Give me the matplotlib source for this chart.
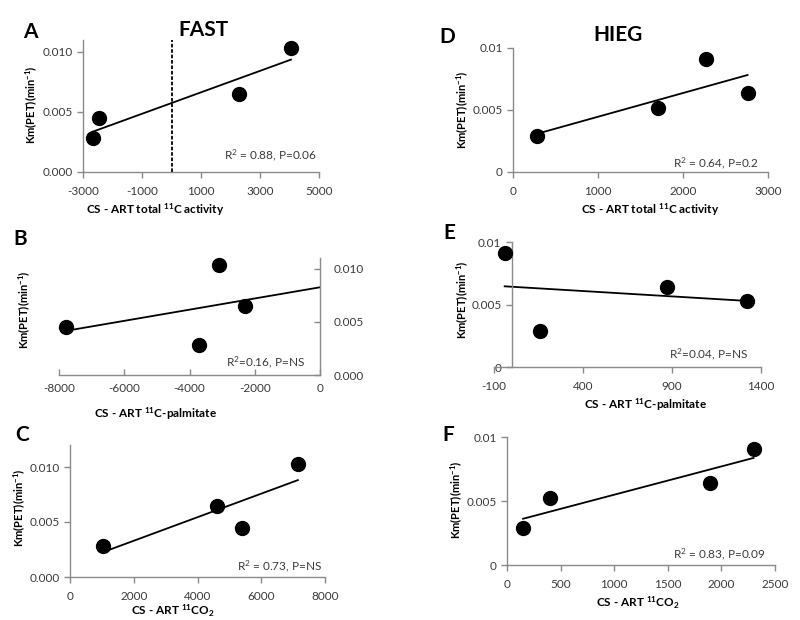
import numpy as np
import matplotlib
matplotlib.use("Agg")
import matplotlib.pyplot as plt
from matplotlib.ticker import FixedLocator, FuncFormatter

plt.rcParams["font.family"] = ["Lato", "DejaVu Sans"]
plt.rcParams["mathtext.fontset"] = "custom"
plt.rcParams["mathtext.rm"] = "Lato"
plt.rcParams["mathtext.bf"] = "Lato:bold"
plt.rcParams["mathtext.it"] = "Lato:italic"

# ---- data ----
# FAST (left column)
fast_total_x = [-2650, -2450, 2300, 4050]
fast_total_y = [0.0028, 0.0045, 0.0065, 0.0103]
fast_palm_x = [-7800, -3700, -3100, -2300]
fast_palm_y = [0.0045, 0.0028, 0.0103, 0.0065]
fast_co2_x = [1050, 4600, 5400, 7150]
fast_co2_y = [0.0028, 0.0065, 0.0045, 0.0103]
# HIEG (right column)
hieg_total_x = [280, 1710, 2270, 2760]
hieg_total_y = [0.0029, 0.0052, 0.0091, 0.0064]
hieg_palm_x = [-40, 160, 870, 1320]
hieg_palm_y = [0.0091, 0.0029, 0.0064, 0.0053]
hieg_co2_x = [150, 400, 1890, 2300]
hieg_co2_y = [0.0029, 0.0052, 0.0064, 0.0091]

stats = {
    "A": r"R$^2$ = 0.88, P=0.06",
    "B": r"R$^2$=0.16, P=NS",
    "C": r"R$^2$ = 0.73, P=NS",
    "D": r"R$^2$ = 0.64, P=0.2",
    "E": r"R$^2$=0.04, P=NS",
    "F": r"R$^2$ = 0.83, P=0.09",
}
xlab_total = r"CS - ART total $^{\mathbf{11}}$C activity"
xlab_palm = r"CS - ART $^{\mathbf{11}}$C-palmitate"
xlab_co2 = r"CS - ART $^{\mathbf{11}}$CO$_{\mathbf{2}}$"
ylab = r"Km(PET)(min$^{\mathbf{-1}}$)"

W, H = 800, 620
SPINE = "#8a8a8a"
TXT = "#3a3a3a"


def px(x0, y0, x1, y1):
    """pixel box (left, top, right, bottom) -> figure rect"""
    return [x0 / W, 1 - y1 / H, (x1 - x0) / W, (y1 - y0) / H]


fig = plt.figure(figsize=(8, 6.2), dpi=100)

# name, data, rect, xlim, xticks, ylim, 3-decimal labels, x-label, trend end
panels = [
    ("A", fast_total_x, fast_total_y, px(83, 40, 319, 172), (-3000, 5000),
     [-3000, -1000, 1000, 3000, 5000], 0.011, True, xlab_total, None),
    ("B", fast_palm_x, fast_palm_y, px(59, 258, 320, 375), (-8000, 0),
     [-8000, -6000, -4000, -2000, 0], 0.011, True, xlab_palm, 0),
    ("C", fast_co2_x, fast_co2_y, px(70, 445, 325, 577), (0, 8000),
     [0, 2000, 4000, 6000, 8000], 0.012, True, xlab_co2, None),
    ("D", hieg_total_x, hieg_total_y, px(513, 48, 768, 172), (0, 3000),
     [0, 1000, 2000, 3000], 0.010, False, xlab_total, None),
    ("E", hieg_palm_x, hieg_palm_y, px(494, 242, 761, 367), (-100, 1400),
     [-100, 400, 900, 1400], 0.010, False, xlab_palm, None),
    ("F", hieg_co2_x, hieg_co2_y, px(507, 437, 775, 565), (0, 2500),
     [0, 500, 1000, 1500, 2000, 2500], 0.010, False, xlab_co2, None),
]

# label positions in pixels: letter, y-label, x-label, stats (right edge, y)
letter_pos = {"A": (30, 32), "B": (20, 239), "C": (22, 435),
              "D": (447, 37), "E": (449, 233), "F": (448, 435)}
ylab_pos = {"A": (32, 105), "B": (25, 310), "C": (20, 508),
            "D": (463, 110), "E": (463, 300), "F": (457, 500)}
xlab_pos = {"A": (155, 210), "B": (155, 414), "C": (173, 611),
            "D": (650, 210), "E": (645, 405), "F": (638, 603)}
stat_pos = {"A": (317, 155), "B": (305, 362), "C": (322, 566),
            "D": (759, 163), "E": (748, 354), "F": (766, 554)}


def fmt3(v, _):
    return f"{v:.3f}"


def fmtg(v, _):
    if abs(v) < 1e-12:
        return "0"
    return f"{v:g}"


for name, x, y, rect, xlim, xticks, ymax, three, xlab, trend_end in panels:
    ax = fig.add_axes(rect)
    ax.set_facecolor("none")
    x = np.asarray(x, float)
    y = np.asarray(y, float)
    k, b = np.polyfit(x, y, 1)
    xe = x.max() if trend_end is None else trend_end
    xs = np.array([x.min(), xe])
    ax.plot(xs, k * xs + b, color="black", lw=1.3, zorder=2)
    ax.plot(x, y, "o", color="black", ms=10, zorder=3, clip_on=False)

    ax.set_xlim(*xlim)
    ax.set_ylim(0, ymax)
    ax.xaxis.set_major_locator(FixedLocator(xticks))
    ax.yaxis.set_major_locator(FixedLocator([0, 0.005, 0.010]))
    ax.xaxis.set_major_formatter(FuncFormatter(lambda v, _: f"{v:.0f}"))
    ax.yaxis.set_major_formatter(FuncFormatter(fmt3 if three else fmtg))

    for s in ax.spines.values():
        s.set_color(SPINE)
        s.set_linewidth(1.0)
    ax.spines["top"].set_visible(False)
    if name == "B":
        ax.spines["left"].set_visible(False)
        ax.yaxis.tick_right()
        ax.tick_params(axis="y", direction="in", pad=10)
        ax.tick_params(axis="x", direction="in")
    else:
        ax.spines["right"].set_visible(False)
        ax.tick_params(direction="out")
    if name == "E":
        ax.spines["left"].set_position(("data", 0))
    ax.tick_params(length=4, width=1.0, color=SPINE, labelsize=8.5,
                   labelcolor=TXT)
    ax.tick_params(axis="x", pad=6)

    if name == "A":
        ax.axvline(0, color="black", lw=1.3, ls=(0, (2, 1)), zorder=1)

    lx, ly = letter_pos[name]
    fig.text(lx / W, 1 - ly / H, name, fontsize=15, fontweight="bold",
             ha="center", va="center")
    yx, yy = ylab_pos[name]
    fig.text(yx / W, 1 - yy / H, ylab, fontsize=8, fontweight="bold",
             rotation=90, ha="center", va="center")
    xx, xy = xlab_pos[name]
    fig.text(xx / W, 1 - xy / H, xlab, fontsize=8.5, fontweight="bold",
             ha="center", va="center")
    sx, sy = stat_pos[name]
    fig.text(sx / W, 1 - sy / H, stats[name], fontsize=8.5, color=TXT,
             ha="right", va="center")

fig.text(203 / W, 1 - 30 / H, "FAST", fontsize=15, fontweight="bold",
         ha="center", va="center")
fig.text(618 / W, 1 - 35 / H, "HIEG", fontsize=15, fontweight="bold",
         ha="center", va="center")

fig.savefig("out.png", dpi=100)
